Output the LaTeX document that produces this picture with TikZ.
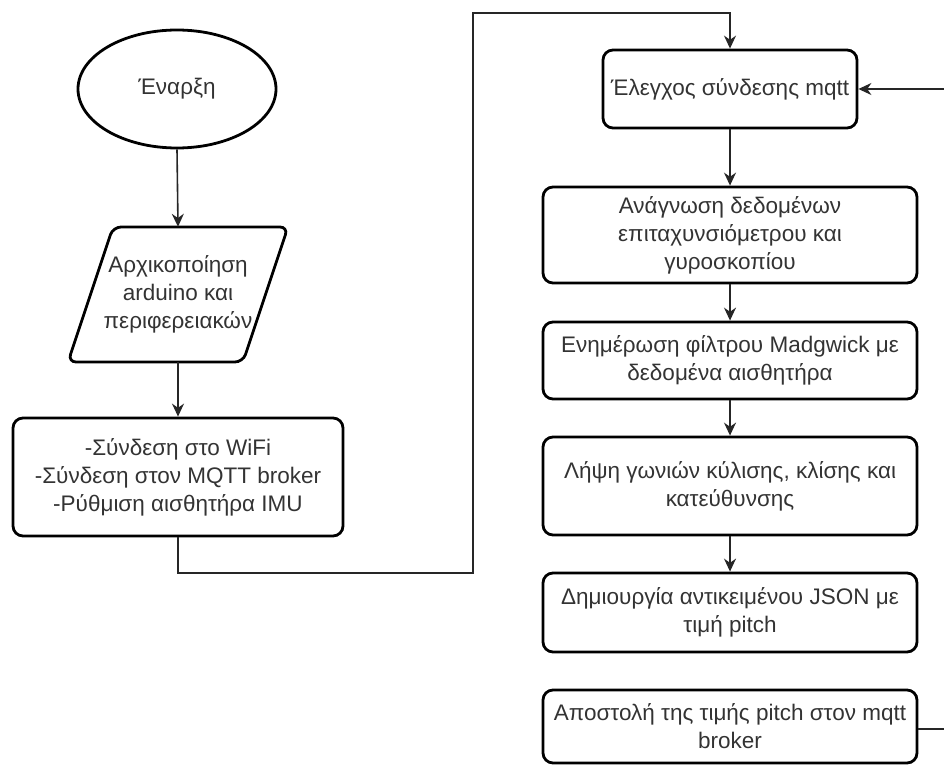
\documentclass[tikz,border=0pt]{standalone}
\usepackage{fontspec}
\setmainfont{Liberation Sans}
\usetikzlibrary{shapes.geometric,arrows.meta}
\definecolor{txt}{HTML}{333333}
\tikzset{
  every node/.style={font=\fontsize{22.5}{28}\selectfont, text=txt, align=center},
  procbox/.style={draw=black, line width=2.8pt, rounded corners=10pt, inner sep=0pt},
  conn/.style={draw=black!85, line width=1.6pt},
  arr/.style={conn, -{Stealth[length=13pt,width=12pt]}},
}
\begin{document}
\begin{tikzpicture}[x=1pt,y=-1pt]
\useasboundingbox (0,0) rectangle (944,765);
\clip (0,0) rectangle (944,765);
% start
\node[ellipse, draw=black, line width=2.8pt, minimum width=198pt, minimum height=118pt, inner sep=0pt] (start) at (177,89) {Έναρξη};
% init parallelogram
\node[minimum width=175pt, minimum height=135pt, inner sep=0pt] (init) at (178,294.5) {Αρχικοποίηση\\arduino και\\περιφερειακών};
\draw[line width=2.8pt, rounded corners=8pt] (113,227) -- (288,227) -- (243,362) -- (68,362) -- cycle;
% setup box
\node[procbox, minimum width=330pt, minimum height=118pt] (setup) at (178,477) {-Σύνδεση στο WiFi\\-Σύνδεση στον MQTT broker\\-Ρύθμιση αισθητήρα IMU};
% right column
\node[procbox, minimum width=254pt, minimum height=78pt] (check) at (730,89) {Έλεγχος σύνδεσης mqtt};
\node[procbox, minimum width=374pt, minimum height=96pt] (read) at (730,235) {Ανάγνωση δεδομένων\\επιταχυνσιόμετρου και\\γυροσκοπίου};
\node[procbox, minimum width=374pt, minimum height=77pt] (upd) at (730,360.5) {Ενημέρωση φίλτρου Madgwick με\\δεδομένα αισθητήρα};
\node[procbox, minimum width=374pt, minimum height=98pt] (ang) at (730,486) {Λήψη γωνιών κύλισης, κλίσης και\\κατεύθυνσης};
\node[procbox, minimum width=374pt, minimum height=79pt] (json) at (730,612.5) {Δημιουργία αντικειμένου JSON με\\τιμή pitch};
\node[procbox, minimum width=374pt, minimum height=73pt] (send) at (730,726.5) {Αποστολή της τιμής pitch στον mqtt\\broker};
% connectors
\draw[arr] (start.south) -- (init.north);
\draw[arr] (init.south) -- (setup.north);
\coordinate (r1) at (473,573);
\coordinate (r2) at (473,13);
\draw[arr] (setup.south) -- (setup.south |- r1) -- (r1) -- (r2) -- (check.north |- r2) -- (check.north);
\draw[arr] (check.south) -- (read.north);
\draw[arr] (read.south) -- (upd.north);
\draw[arr] (upd.south) -- (ang.north);
\draw[arr] (ang.south) -- (json.north);
\coordinate (l1) at (960,729);
\coordinate (l2) at (960,89);
\draw[arr] (send.east |- l1) -- (l1) -- (l2) -- (check.east);
\end{tikzpicture}
\end{document}
